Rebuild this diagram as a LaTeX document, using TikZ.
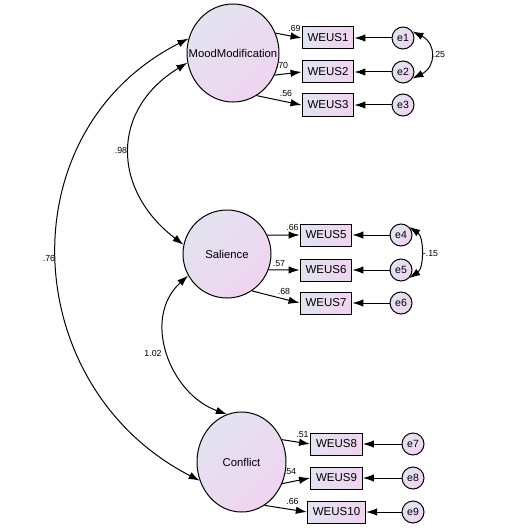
\documentclass[tikz,border=0pt]{standalone}
\usepackage{fontspec}
\setmainfont{Liberation Sans}
\usetikzlibrary{arrows.meta,shapes.geometric}
\definecolor{AmosGrey}{RGB}{226,227,240}
\definecolor{AmosPink}{RGB}{240,212,240}

\begin{document}
\begin{tikzpicture}[x=1pt,y=-1pt,>={Latex[length=11pt,width=7.5pt]},line width=1pt,
  latent/.style={ellipse,draw,inner sep=0pt,top color=AmosGrey,bottom color=AmosPink,
    shading angle=45,font=\fontsize{11.3}{13}\selectfont},
  indic/.style={rectangle,draw,minimum height=22pt,inner xsep=5.5pt,inner ysep=0pt,
    left color=AmosGrey,right color=AmosPink,font=\fontsize{11.5}{13}\selectfont},
  err/.style={circle,draw,minimum size=22pt,inner sep=0pt,top color=AmosGrey,
    bottom color=AmosPink,shading angle=45,font=\fontsize{10.5}{12}\selectfont},
  coef/.style={inner sep=0pt,font=\fontsize{8.8}{10}\selectfont}]
  \useasboundingbox (0,0) rectangle (514,532);

  % latent factors
  \node[latent,minimum width=92pt,minimum height=98pt] (mood) at (233,53) {\makebox[0pt]{MoodModification}};
  \node[latent,minimum width=88pt,minimum height=88pt] (sal) at (227,254) {Salience};
  \node[latent,minimum width=89pt,minimum height=100pt] (conf) at (241.5,462) {Conflict};

  % indicators
  \node[indic] (w1) at (328,38) {WEUS1};
  \node[indic] (w2) at (328,72) {WEUS2};
  \node[indic] (w3) at (328,105) {WEUS3};
  \node[indic] (w5) at (326,235) {WEUS5};
  \node[indic] (w6) at (326,270) {WEUS6};
  \node[indic] (w7) at (326,303) {WEUS7};
  \node[indic] (w8) at (336.5,444) {WEUS8};
  \node[indic] (w9) at (336.5,478) {WEUS9};
  \node[indic] (w10) at (336.5,512) {WEUS10};

  % error terms
  \node[err] (e1) at (403,38) {e1};
  \node[err] (e2) at (403,72) {e2};
  \node[err] (e3) at (403,105) {e3};
  \node[err] (e4) at (401,235) {e4};
  \node[err] (e5) at (401,270) {e5};
  \node[err] (e6) at (401,303) {e6};
  \node[err] (e7) at (413,444) {e7};
  \node[err] (e8) at (413,478) {e8};
  \node[err] (e9) at (413,512) {e9};

  % loadings
  \draw[->] (mood.25) -- (w1.west);
  \draw[->] (mood.-28) -- (w2.west);
  \draw[->] (mood.-61) -- (w3.west);
  \draw[->] (sal.25) -- (w5.west);
  \draw[->] (sal.-21) -- (w6.west);
  \draw[->] (sal.-56) -- (w7.west);
  \draw[->] (conf.29) -- (w8.west);
  \draw[->] (conf.-28) -- (w9.west);
  \draw[->] (conf.-62) -- (w10.west);
  \node[coef] (k1) at (294.5,28) {.69};
  \node[coef] (k2) at (282,65) {.70};
  \node[coef] (k3) at (286,93) {.56};
  \node[coef] (k5) at (292.5,227) {.66};
  \node[coef] (k6) at (279,263.5) {.57};
  \node[coef] (k7) at (284,291.5) {.68};
  \node[coef] (k8) at (302.5,435) {.51};
  \node[coef] (k9) at (290,471.5) {.54};
  \node[coef] (k10) at (292.5,501.5) {.66};

  % residual paths
  \foreach \i/\j in {1/1,2/2,3/3,4/5,5/6,6/7,7/8,8/9,9/10}
    \draw[->] (e\i) -- (w\j);

  % covariances
  \draw[<->] (e1.35) .. controls +(24,12) and +(24,-12) .. (e2.-35);
  \node[coef] (r12) at (439,54) {.25};
  \draw[<->] (e4.45) .. controls +(15,10) and +(15,-10) .. (e5.-45);
  \node[coef] (r45) at (430.5,253.5) {-.15};
  \draw[<->] (mood.192) .. controls (110,110) and (112,190) .. (sal.168);
  \node[coef] (rms) at (121,150) {.98};
  \draw[<->] (sal.209) .. controls (141,318.5) and (170,394) .. (conf.107);
  \node[coef] (rsc) at (153,353) {1.02};
  \draw[<->] (mood.162) .. controls (6,131) and (17,387) .. (conf.204);
  \node[coef] (rmc) at (49,258) {.76};
\end{tikzpicture}
\end{document}
